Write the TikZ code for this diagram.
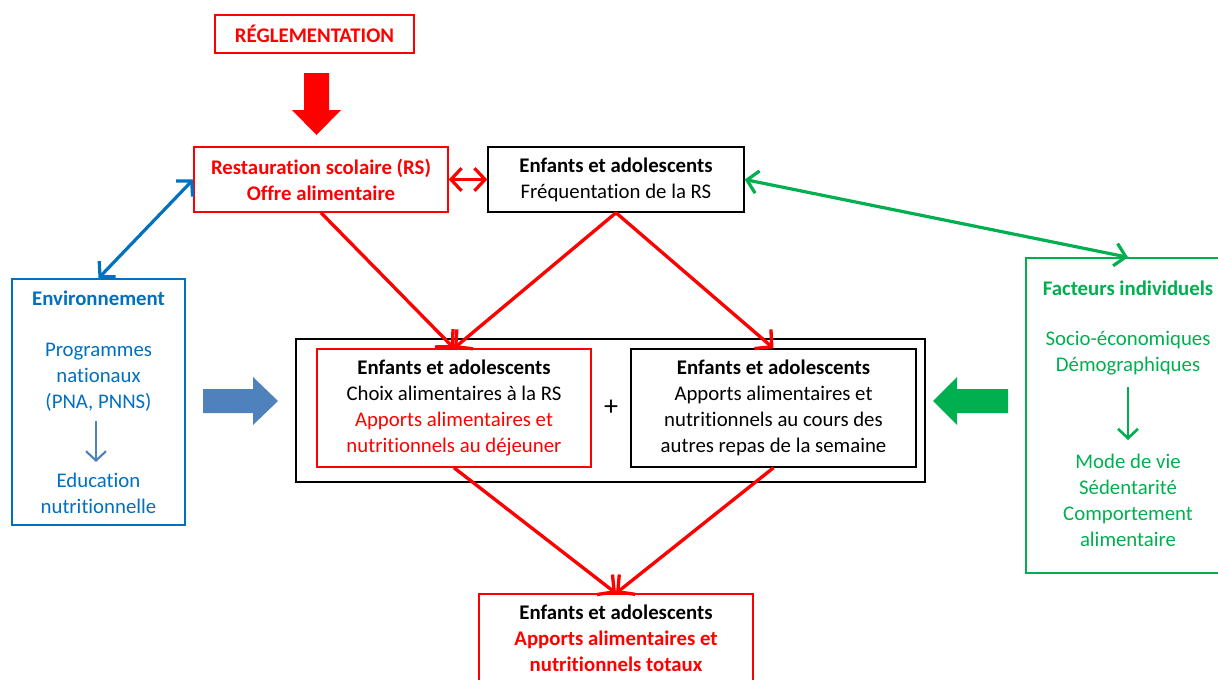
\documentclass[tikz,border=0pt]{standalone}
\usepackage{fontspec}
\setmainfont{Carlito}[Ligatures=NoCommon]
\usetikzlibrary{arrows.meta,fit}
\definecolor{rred}{RGB}{255,0,0}
\definecolor{oblue}{RGB}{0,112,192}
\definecolor{sblue}{RGB}{79,129,189}
\definecolor{ogreen}{RGB}{0,176,80}
\begin{document}
\begin{tikzpicture}[x=0.75pt,y=-0.75pt,
  box/.style={draw, line width=1.1pt, inner sep=0pt},
  txt/.style={align=center, font=\fontsize{15.6}{19.5}\selectfont, inner sep=0pt},
  conn/.style={line width=2.5pt, rred, -{Straight Barb[length=9pt,width=19pt]}},
  dconn/.style={line width=2.4pt, {Straight Barb[length=8pt,width=17pt]}-{Straight Barb[length=8pt,width=17pt]}},
  thin/.style={line width=1.6pt, -{Straight Barb[length=7pt,width=15pt]}}]
\useasboundingbox (0,0) rectangle (1218,679);
\clip (0,0) rectangle (1218,679);
\fill[white] (0,0) rectangle (1218,679);

% boxes
\node[box, rred, fit={(215,15) (414,53)}] (reg) {};
\node[box, rred, fit={(194,147) (448,212)}] (rs) {};
\node[box, black, fit={(488,147) (744,212)}] (ea1) {};
\node[box, oblue, fit={(12,279) (185,525)}] (env) {};
\node[box, ogreen, fit={(1026,258) (1230,573)}] (fac) {};
\node[box, black, fit={(296,339) (925,482)}] (outer) {};
\node[box, rred, fit={(317,349) (591,467)}] (ired) {};
\node[box, black, fit={(631,349) (916,467)}] (iblk) {};
\node[box, rred, fit={(479,594) (753,700)}] (bot) {};

% texts
\node[txt, text=rred, font=\fontsize{15.6}{19.5}\selectfont\bfseries] (tReg) at (reg.center) {RÉGLEMENTATION};
\node[txt, text=rred, font=\fontsize{15.6}{19.5}\selectfont\bfseries] (tRs) at (rs.center) {Restauration scolaire (RS)\\Offre alimentaire};
\node[txt] (tEa1) at (ea1.center) {\textbf{Enfants et adolescents}\\Fréquentation de la RS};
\node[txt, text=oblue, font=\fontsize{15.6}{19.5}\selectfont\bfseries] (tEnv) at (98.5,298) {Environnement};
\node[txt, text=oblue] (tProg) at (98.5,377) {Programmes\\nationaux\\(PNA, PNNS)};
\node[txt, text=oblue] (tEdu) at (98.5,493) {Education\\nutritionnelle};
\node[txt, text=ogreen, font=\fontsize{15.6}{19.5}\selectfont\bfseries] (tFac) at (1128,288) {Facteurs individuels};
\node[txt, text=ogreen] (tSocio) at (1128,353) {Socio-économiques\\Démographiques};
\node[txt, text=ogreen] (tMode) at (1128,500) {Mode de vie\\Sédentarité\\Comportement\\alimentaire};
\node[txt] (tIred) at (ired.center) {\textbf{Enfants et adolescents}\\Choix alimentaires à la RS\\\textcolor{rred}{Apports alimentaires et}\\\textcolor{rred}{nutritionnels au déjeuner}};
\node[txt] (tIblk) at (iblk.center) {\textbf{Enfants et adolescents}\\Apports alimentaires et\\nutritionnels au cours des\\autres repas de la semaine};
\node[txt, font=\fontsize{21}{24}\selectfont] (plus) at (611,408) {+};
\node[txt, font=\fontsize{15.6}{19.5}\selectfont\bfseries] (tBot) at (616,638) {Enfants et adolescents\\\textcolor{rred}{Apports alimentaires et}\\\textcolor{rred}{nutritionnels totaux}};

% fat arrows
\fill[rred] (304,73) -- (329,73) -- (329,110) -- (341,110) -- (316.5,135) -- (292,110) -- (304,110) -- cycle;
\fill[sblue] (203,389) -- (253,389) -- (253,377) -- (278,401) -- (253,425) -- (253,413) -- (203,413) -- cycle;
\fill[ogreen] (1008,389) -- (957,389) -- (957,377) -- (933,401) -- (957,425) -- (957,413) -- (1008,413) -- cycle;

% connectors
\draw[dconn, rred] (rs.east) -- (ea1.west);
\draw[dconn, oblue] (rs.west) -- (env.north);
\draw[dconn, ogreen] (ea1.east) -- (fac.north);
\draw[conn] (rs.south) -- (ired.north);
\draw[conn] (ea1.south) -- (ired.north);
\draw[conn] (ea1.south) -- (iblk.north);
\draw[conn] (ired.south) -- (bot.north);
\draw[conn] (iblk.south) -- (bot.north);
\coordinate (ba) at (96,421);
\coordinate (bb) at (96,462);
\coordinate (ga) at (1128,387);
\coordinate (gb) at (1128,440);
\draw[thin, sblue] (ba) -- (bb);
\draw[thin, ogreen, line width=2pt] (ga) -- (gb);
\end{tikzpicture}
\end{document}
